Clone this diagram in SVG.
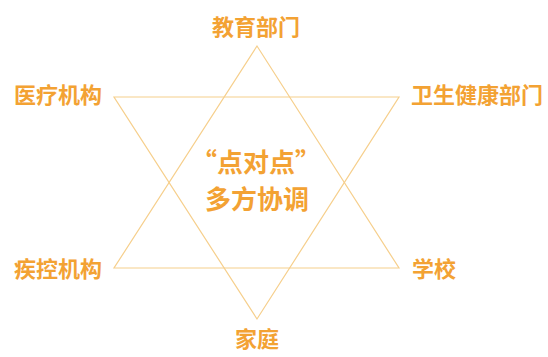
<svg xmlns="http://www.w3.org/2000/svg" width="548" height="357" viewBox="0 0 548 357">
<style>
.lbl{font-family:"Noto Sans CJK SC","Noto Sans",sans-serif;font-weight:700;fill:#F3A233;text-anchor:middle;font-size:22px}
.ctr{font-size:26px}
.tri{fill:none;stroke:#F6CF8C;stroke-width:1.2}
</style>
<rect width="548" height="357" fill="#FFFFFF"/>
<g id="connectors">
<polygon class="tri" points="257,46 114,268 399,268"/>
<polygon class="tri" points="114,97 399,97 257,319"/>
</g>
<g id="center"><text class="lbl ctr" x="256" y="172">“点对点”</text><text class="lbl ctr" x="257" y="209">多方协调</text></g>
<g id="n-edu"><text class="lbl" x="256" y="35">教育部门</text></g>
<g id="n-med"><text class="lbl" x="58" y="103">医疗机构</text></g>
<g id="n-health"><text class="lbl" x="477" y="103">卫生健康部门</text></g>
<g id="n-cdc"><text class="lbl" x="58" y="277">疾控机构</text></g>
<g id="n-school"><text class="lbl" x="434" y="277">学校</text></g>
<g id="n-family"><text class="lbl" x="257" y="347">家庭</text></g>
</svg>
